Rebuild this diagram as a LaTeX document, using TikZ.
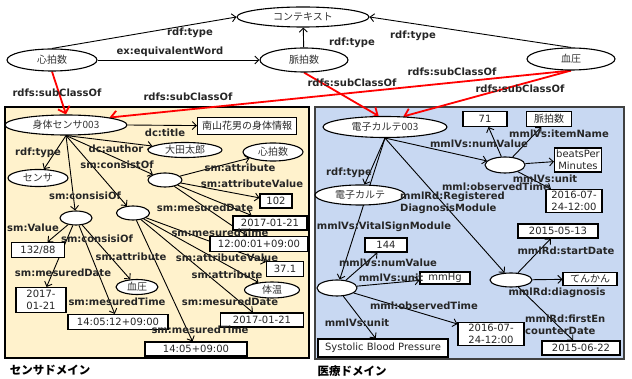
\documentclass[tikz,border=0pt]{standalone}
\usepackage{fontspec}
\setmainfont{DejaVu Sans}
\newfontfamily\jp{Noto Sans CJK JP}
\usepackage{tikz}
\usetikzlibrary{shapes.geometric, arrows.meta}
\definecolor{sensorbg}{HTML}{FFF2CC}
\definecolor{medbg}{HTML}{C8D8F2}
\pgfdeclarelayer{panel}
\pgfdeclarelayer{edges}
\pgfsetlayers{panel,edges,main}

\begin{document}
\begin{tikzpicture}[x=1pt, y=-1pt,
    ell/.style={draw, ellipse, fill=white, line width=1.1pt, inner sep=0pt, font=\jp\fontsize{10}{11}\selectfont, text=black!80},
    box/.style={draw, rectangle, fill=white, line width=1.1pt, inner sep=0pt, align=center, font=\fontsize{10}{11.5}\selectfont, text=black!85},
    jbox/.style={box, font=\jp\fontsize{10}{11}\selectfont},
    sz/.style 2 args={minimum width=#1pt, minimum height=#2pt},
    lbl/.style={inner sep=0pt, font=\bfseries\fontsize{10}{11.5}\selectfont, text=black!85},
    arr/.style={-{Straight Barb[length=4pt,width=8pt]}, line width=0.9pt},
    sub/.style={-{Straight Barb[length=6pt,width=12pt]}, line width=1.8pt, red}]
    \useasboundingbox (0,0) rectangle (632,379);

    % domains
    \begin{pgfonlayer}{panel}
    \path[draw, line width=1.2pt, fill=sensorbg] (5,107) rectangle (309,358);
    \path[draw, line width=1.2pt, draw=black!75, fill=medbg] (315,107) rectangle (624,359);
    \end{pgfonlayer}
    \node[inner sep=0pt, font=\jp\bfseries\fontsize{11.5}{12}\selectfont] (sdom) at (50,370) {センサドメイン};
    \node[inner sep=0pt, font=\jp\bfseries\fontsize{11.5}{12}\selectfont] (mdom) at (352,371) {医療ドメイン};

    % vocabulary
    \node[ell, sz={132}{20}] (ctx) at (303,17) {コンテキスト};
    \node[ell, sz={90}{22}] (hr) at (52,60) {心拍数};
    \node[ell, sz={88}{24}] (pr) at (304,60) {脈拍数};
    \node[ell, sz={88}{22}] (bp) at (571,59) {血圧};

    % sensor domain
    \node[ell, sz={122}{20}] (body) at (66,125) {身体センサ003};
    \node[jbox, sz={99}{17}] (title) at (247,126) {南山花男の身体情報};
    \node[ell, sz={74}{15}] (author) at (185,150) {大田太郎};
    \node[ell, sz={60}{17}] (sensor) at (38,178) {センサ};
    \node[ell, sz={34}{14}] (meas1) at (165,180) {};
    \node[ell, sz={33}{14}] (meas2) at (133,213) {};
    \node[ell, sz={32}{14}] (meas3) at (76,218) {};
    \node[ell, sz={60}{18}] (hr2) at (273,152) {心拍数};
    \node[box, sz={32}{14}] (v102) at (276,201) {102};
    \node[box, sz={74}{14}] (dateA) at (270,223) {2017-01-21};
    \node[box, sz={98}{15}] (timeA) at (259,244) {12:00:01+09:00};
    \node[box, sz={37}{15}] (v371) at (285,269) {37.1};
    \node[ell, sz={55}{16}] (temp) at (272,290) {体温};
    \node[box, sz={83}{14}] (dateB) at (262,320) {2017-01-21};
    \node[box, sz={102}{14}] (timeB) at (196,349) {14:05+09:00};
    \node[box, sz={53}{15}] (v132) at (38,250) {132/88};
    \node[box, sz={50}{25}] (dateC) at (41,300) {2017-\\01-21};
    \node[ell, sz={42}{15}] (bp2) at (137,287) {血圧};
    \node[box, sz={100}{15}] (timeC) at (118,322) {14:05:12+09:00};

    % medical domain
    \node[ell, sz={124}{21}] (emr003) at (385,127) {電子カルテ003};
    \node[ell, sz={90}{20}] (emr) at (360,195) {電子カルテ};
    \node[ell, sz={40}{16}] (hbm) at (505,165) {};
    \node[box, sz={44}{15}] (n71) at (485,119) {71};
    \node[jbox, sz={45}{15}] (prbox) at (549,119) {脈拍数};
    \node[box, sz={47}{24}] (bpmin) at (578,160) {beatsPer\\Minutes};
    \node[box, sz={56}{23}] (timeH) at (574,201) {2016-07-\\24-12:00};
    \node[ell, sz={40}{16}] (vsm) at (337,288) {};
    \node[box, sz={42}{14}] (n144) at (386,245) {144};
    \node[box, sz={50}{12}] (mmhg) at (445,278) {mmHg};
    \node[box, sz={66}{23}] (timeV) at (491,334) {2016-07-\\24-12:00};
    \node[box, sz={130}{18}] (sbp) at (383,348) {Systolic Blood Pressure};
    \node[ell, sz={42}{14}] (diag) at (511,280) {};
    \node[box, sz={80}{14}] (start) at (558,231) {2015-05-13};
    \node[jbox, sz={54}{13}] (epil) at (590,279) {てんかん};
    \node[box, sz={78}{14}] (first) at (581,348) {2015-06-22};

    \begin{pgfonlayer}{edges}
    \draw[arr] (hr.north) -- (ctx.west);
    \draw[arr] (hr) -- (pr);
    \draw[arr] (pr) -- (ctx);
    \draw[arr] (bp.north) -- (ctx.east);
    \draw[sub] (hr.south) -- (body.north);
    \draw[sub] (bp.south) -- (body.north east);
    \draw[sub] (pr.south) -- (emr003.120);
    \draw[sub] (bp.south) -- (emr003.30);

    \draw[arr] (body.east) -- (title);
    \draw[arr] (body.south) -- (author);
    \draw[arr] (body.south) -- (sensor);
    \draw[arr] (body.south) -- (meas1);
    \draw[arr] (body.south) -- (meas2);
    \draw[arr] (body.south) -- (meas3);
    \foreach \t in {hr2, v102, dateA, timeA}
        \draw[arr] (meas1) -- (\t);
    \foreach \t in {v371, temp, dateB, timeB}
        \draw[arr] (meas2) -- (\t);
    \foreach \t in {v132, dateC, bp2, timeC}
        \draw[arr] (meas3) -- (\t);

    \foreach \t in {emr, vsm, hbm, diag}
        \draw[arr] (emr003.south) -- (\t);
    \foreach \t in {n71, prbox, bpmin, timeH}
        \draw[arr] (hbm) -- (\t);
    \foreach \t in {n144, mmhg, timeV, sbp}
        \draw[arr] (vsm) -- (\t);
    \foreach \t in {start, epil, first}
        \draw[arr] (diag) -- (\t);
    \end{pgfonlayer}

    % property labels
    \node[lbl] at (190,33) {rdf:type};
    \node[lbl] at (170,52) {ex:equivalentWord};
    \node[lbl] at (352,43) {rdf:type};
    \node[lbl] at (413,36) {rdf:type};
    \node[lbl] at (57,93) {rdfs:subClassOf};
    \node[lbl] at (188,97) {rdfs:subClassOf};
    \node[lbl] at (352,83) {rdfs:subClassOf};
    \node[lbl] at (452,72) {rdfs:subClassOf};
    \node[lbl] at (520,89) {rdfs:subClassOf};

    \node[lbl] at (38,153) {rdf:type};
    \node[lbl] at (165,133) {dc:title};
    \node[lbl] at (116,149) {dc:author};
    \node[lbl] at (117,165) {sm:consistOf};
    \node[lbl] at (85,196) {sm:consisiOf};
    \node[lbl] at (33,228) {sm:Value};
    \node[lbl] at (97,239) {sm:consisiOf};
    \node[lbl] at (63,273) {sm:mesuredDate};
    \node[lbl] at (131,257) {sm:attribute};
    \node[lbl] at (117,302) {sm:mesuredTime};
    \node[lbl] at (240,168) {sm:attribute};
    \node[lbl] at (252,184) {sm:attributeValue};
    \node[lbl] at (205,208) {sm:mesuredDate};
    \node[lbl] at (220,233) {sm:mesuredTime};
    \node[lbl] at (227,258) {sm:attributeValue};
    \node[lbl] at (227,275) {sm:attribute};
    \node[lbl] at (230,302) {sm:mesuredDate};
    \node[lbl] at (200,330) {sm:mesuredTime};

    \node[lbl] at (349,173) {rdf:type};
    \node[lbl] at (384,227) {mmlVs:VitalSignModule};
    \node[lbl] at (479,144) {mmlVs:numValue};
    \node[lbl] at (559,134) {mmlVs:itemName};
    \node[lbl] at (545,179) {mmlVs:unit};
    \node[lbl] at (496,187) {mml:observedTime};
    \node[lbl, anchor=west, align=left] at (400,203) {mmlRd:Registered\\DiagnosisModule};
    \node[lbl] at (388,263) {mmlVs:numValue};
    \node[lbl] at (391,278) {mmlVs:unit};
    \node[lbl] at (424,306) {mml:observedTime};
    \node[lbl] at (357,323) {mmlVs:unit};
    \node[lbl] at (566,251) {mmlRd:startDate};
    \node[lbl] at (557,293) {mmlRd:diagnosis};
    \node[lbl, anchor=west, align=left] at (525,325) {mmlRd:firstEn\\counterDate};
\end{tikzpicture}
\end{document}
